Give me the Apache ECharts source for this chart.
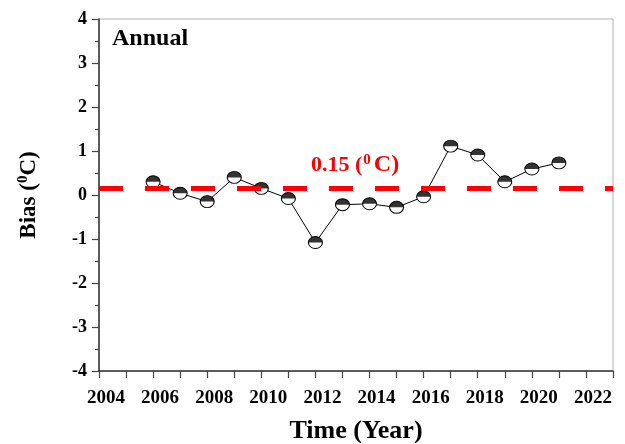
<!DOCTYPE html>
<html>
<head>
<meta charset="utf-8">
<script src="https://cdn.jsdelivr.net/npm/echarts@6/dist/echarts.min.js"></script>
<style>
html,body{margin:0;padding:0;background:#fff;}
#chart{width:625px;height:444px;}
</style>
</head>
<body>
<div id="chart"></div>
<script>
// ---- data ----
var years = [2006, 2007, 2008, 2009, 2010, 2011, 2012, 2013, 2014, 2015, 2016, 2017, 2018, 2019, 2020, 2021];
var bias = [0.30, 0.04, -0.15, 0.40, 0.15, -0.08, -1.08, -0.22, -0.20, -0.28, -0.04, 1.11, 0.91, 0.30, 0.59, 0.73];
var meanBias = 0.15;
var xTickLabels = [2004, 2006, 2008, 2010, 2012, 2014, 2016, 2018, 2020, 2022];
var yTickLabels = [-4, -3, -2, -1, 0, 1, 2, 3, 4];

var FONT = "'Liberation Serif', 'Times New Roman', serif";
var points = years.map(function (y, i) { return [y, bias[i]]; });

var chart = echarts.init(document.getElementById('chart'), null, {renderer: 'canvas'});
chart.setOption({
  backgroundColor: '#ffffff',
  animation: false,
  grid: {
    left: 99, right: 12, top: 19, bottom: 73,
    outerBoundsMode: 'none',
    containLabel: false,
    show: true, borderColor: '#b0b0b0', borderWidth: 1, backgroundColor: 'transparent'
  },
  xAxis: {
    type: 'value',
    min: 2004, max: 2023, interval: 1,
    name: 'Time (Year)',
    nameLocation: 'middle',
    nameGap: 47,
    nameTextStyle: {fontFamily: FONT, fontWeight: 'bold', fontSize: 26, color: '#000'},
    axisLine: {show: true, onZero: false, lineStyle: {color: '#333', width: 1.5}},
    axisTick: {show: true, inside: false, length: 7, lineStyle: {color: '#444', width: 1.2}},
    splitLine: {show: false},
    axisLabel: {
      margin: 18,
      fontFamily: FONT, fontWeight: 'bold', fontSize: 19, color: '#000',
      padding: [0, 0, 0, 14],
      showMaxLabel: true, showMinLabel: true,
      formatter: function (v) {
        return xTickLabels.indexOf(v) >= 0 ? String(v) : '';
      }
    }
  },
  yAxis: {
    type: 'value',
    min: -4, max: 4, interval: 1,
    name: '{a|Bias (}{s|0}{a|C)}',
    nameLocation: 'middle',
    nameGap: 57,
    nameTextStyle: {
      fontFamily: FONT, fontWeight: 'bold', fontSize: 23, color: '#000',
      rich: {
        a: {fontFamily: FONT, fontWeight: 'bold', fontSize: 23, color: '#000', lineHeight: 26},
        s: {fontFamily: FONT, fontWeight: 'bold', fontSize: 15, color: '#000', lineHeight: 14, verticalAlign: 'top'}
      }
    },
    axisLine: {show: true, onZero: false, lineStyle: {color: '#333', width: 1.5}},
    axisTick: {show: true, inside: false, length: 7, lineStyle: {color: '#444', width: 1.2}},
    minorTick: {show: true, splitNumber: 2, length: 4, lineStyle: {color: '#444', width: 1.2}},
    splitLine: {show: false},
    minorSplitLine: {show: false},
    axisLabel: {
      margin: 12,
      fontFamily: FONT, fontWeight: 'bold', fontSize: 18, color: '#000',
      formatter: function (v) {
        return yTickLabels.indexOf(v) >= 0 ? String(v) : '';
      }
    }
  },
  series: [
    {
      name: 'mean',
      type: 'line',
      data: [],
      z: 1,
      silent: true,
      markLine: {
        silent: true,
        symbol: ['none', 'none'],
        label: {show: false},
        lineStyle: {color: '#ff0000', width: 5, type: [24, 22]},
        data: [{yAxis: meanBias}]
      }
    },
    {
      name: 'bias',
      type: 'line',
      data: points,
      z: 3,
      symbol: 'circle',
      symbolSize: [14, 12],
      lineStyle: {color: '#000', width: 1},
      itemStyle: {color: '#ffffff', borderColor: '#000', borderWidth: 1}
    },
    {
      name: 'biasTop',
      type: 'scatter',
      data: points,
      z: 4,
      silent: true,
      symbol: 'path://M0 10 A10 10 0 0 1 20 10 Z',
      symbolSize: [14, 6],
      symbolOffset: [0, -3],
      itemStyle: {color: '#000'}
    }
  ],
  graphic: [
    {
      type: 'text',
      left: 112, top: 27,
      style: {text: 'Annual', fontFamily: FONT, fontWeight: 'bold', fontSize: 24, fill: '#000'}
    },
    {
      type: 'text',
      left: 311, top: 153,
      style: {
        text: '{a|0.15 (}{s|0}{c|C)}',
        rich: {
          a: {fontFamily: FONT, fontWeight: 'bold', fontSize: 22, fill: '#ff0000', lineHeight: 24},
          c: {fontFamily: FONT, fontWeight: 'bold', fontSize: 24, fill: '#ff0000', lineHeight: 24},
          s: {fontFamily: FONT, fontWeight: 'bold', fontSize: 15, fill: '#ff0000', lineHeight: 14, verticalAlign: 'top', padding: [0, 3, 0, 1]}
        }
      }
    }
  ]
});
</script>
</body>
</html>
